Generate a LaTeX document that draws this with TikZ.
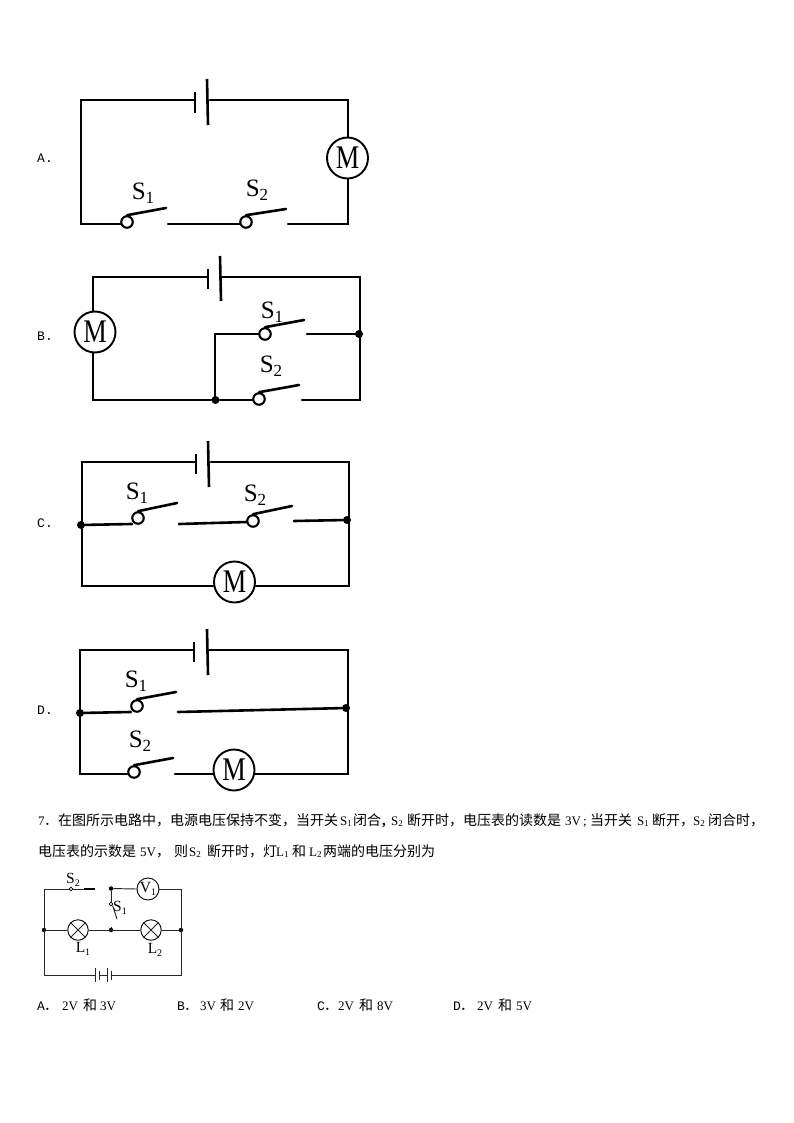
\documentclass[tikz,border=0pt]{standalone}
\usepackage{fontspec}
\usepackage{graphicx}
\setmainfont{Liberation Serif}
\newfontfamily\cjk{Noto Sans CJK SC}
\newfontfamily\monof{Liberation Mono}
\newcommand{\swlabel}[1]{\fontsize{25}{25}\selectfont S\raisebox{-4.5pt}{\fontsize{17}{17}\selectfont #1}}
\newcommand{\smlabel}[2]{\fontsize{15.5}{15.5}\selectfont #1\raisebox{-2.5pt}{\fontsize{10}{10}\selectfont #2}}
\newcommand{\txsub}[2]{#1\raisebox{-1.5pt}{\fontsize{9}{9}\selectfont #2}}
\tikzset{
  wire/.style={line width=2.6pt,line cap=round,line join=miter},
  plate/.style={line width=2.6pt},
  thin wire/.style={line width=0.95pt,black!85},
  motor/.style={circle,draw,line width=1.9pt,minimum size=41pt,inner sep=0pt,fill=white,font=\fontsize{33}{33}\selectfont},
  contact/.style={circle,draw,line width=2.1pt,minimum size=11.5pt,inner sep=0pt,fill=white},
  jdot/.style={circle,fill=black,minimum size=8pt,inner sep=0pt},
  sdot/.style={circle,fill=black,minimum size=4.5pt,inner sep=0pt},
  lamp/.style={circle,draw,line width=0.9pt,minimum size=20.5pt,inner sep=0pt,fill=white},
  volt/.style={circle,draw,line width=0.9pt,minimum size=22pt,inner sep=0pt,fill=white},
  tinycontact/.style={circle,draw,line width=0.7pt,minimum size=3.6pt,inner sep=0pt,fill=white},
  tx/.style={anchor=base west,inner sep=0pt,font=\fontsize{14}{14}\selectfont},
  cn/.style={tx,font=\fontsize{14}{14}\selectfont\cjk},
  lat/.style={tx,font=\fontsize{13}{13}\selectfont},
  opt/.style={anchor=base west,inner sep=0pt,font=\fontsize{13}{13}\selectfont\monof},
  swl/.style={inner sep=0pt}
}
\newcommand{\Mtxt}{\scalebox{.8}[1]{M}}
\begin{document}
\begin{tikzpicture}[x=1pt,y=-1pt]
\useasboundingbox (0,0) rectangle (794,1123);
\fill[white] (0,0) rectangle (794,1123);

% ---------- A ----------
\node[opt] (labA) at (37,163) {A.};
\coordinate (aTL) at (81,100); \coordinate (aTR) at (348,100);
\coordinate (aBL) at (81,224); \coordinate (aBR) at (348,224);
\coordinate (aP1) at (195,100); \coordinate (aP2) at (210,100);
\node[motor] (aM) at (347.5,158) {\Mtxt};
\node[contact] (aS1) at (127,222) {};
\node[contact] (aS2) at (246,222) {};
\coordinate (aS1e) at (166,208); \coordinate (aS2e) at (286,209);
\coordinate (aW1) at (168,224); \coordinate (aW2) at (288,224);
\draw[wire] (aP1) -- (aTL) -- (aBL) -- (aS1.west |- aBL);
\draw[wire] (aP2) -- (aTR) -- (aM.north -| aTR);
\draw[wire] (aM.south -| aBR) -- (aBR) -- (aW2);
\draw[wire] (aW1) -- (aS2.west |- aW1);
\draw[wire] (aS1.north) -- (aS1e);
\draw[wire] (aS2.north) -- (aS2e);
\draw[plate] (195,92) -- (195,113);
\draw[plate] (207,79) -- (208,125);
\node[swl] (aL1) at (143,193) {\swlabel{1}};
\node[swl] (aL2) at (257,190) {\swlabel{2}};

% ---------- B ----------
\node[opt] (labB) at (37,340) {B.};
\coordinate (bTL) at (93,277); \coordinate (bTR) at (360,277);
\coordinate (bBL) at (93,400); \coordinate (bBR) at (360,400);
\node[motor] (bM) at (95,332) {\Mtxt};
\node[contact] (bS1) at (265,334) {};
\node[contact] (bS2) at (259,399) {};
\node[jdot] (bJ1) at (359,334) {};
\node[jdot] (bJ2) at (215.5,400) {};
\coordinate (bS1e) at (304,320); \coordinate (bS2e) at (299,385);
\coordinate (bW1) at (307,334); \coordinate (bW2) at (302,400);
\coordinate (bIn) at (215,334);
\draw[wire] (208,277) -- (bTL) -- (bM.north -| bTL);
\draw[wire] (222,277) -- (bTR) -- (bBR) -- (bW2);
\draw[wire] (bM.south -| bBL) -- (bBL) -- (bJ2) -- (bS2.west |- bJ2);
\draw[wire] (bIn |- bJ2) -- (bIn) -- (bS1.west);
\draw[wire] (bW1) -- (bJ1);
\draw[wire] (bS1.north) -- (bS1e);
\draw[wire] (bS2.north) -- (bS2e);
\draw[plate] (208,269) -- (208,289);
\draw[plate] (220,256) -- (221,301);
\node[swl] (bL1) at (272,312) {\swlabel{1}};
\node[swl] (bL2) at (271,366) {\swlabel{2}};

% ---------- C ----------
\node[opt] (labC) at (37,527) {C.};
\coordinate (cTL) at (82,462); \coordinate (cTR) at (349,462);
\coordinate (cBL) at (82,586); \coordinate (cBR) at (349,586);
\node[motor] (cM) at (234.5,582) {\Mtxt};
\node[contact] (cS1) at (138,518) {};
\node[contact] (cS2) at (253,521) {};
\node[jdot] (cJ1) at (81,525) {};
\node[jdot] (cJ2) at (347,520) {};
\coordinate (cS1e) at (177,503); \coordinate (cS2e) at (292,506);
\coordinate (cS1w) at (132,524); \coordinate (cW1) at (179,524);
\coordinate (cS2w) at (247,522); \coordinate (cW2) at (294,521);
\draw[wire] (196,462) -- (cTL) -- (cBL) -- (cM.west |- cBL);
\draw[wire] (211,462) -- (cTR) -- (cBR) -- (cM.east |- cBR);
\draw[wire] (cJ1) -- (cS1w);
\draw[wire] (cW1) -- (cS2w);
\draw[wire] (cW2) -- (cJ2);
\draw[wire] (cS1.north) -- (cS1e);
\draw[wire] (cS2.north) -- (cS2e);
\draw[plate] (196,454) -- (196,474);
\draw[plate] (208,441) -- (209,487);
\node[swl] (cL1) at (137,493) {\swlabel{1}};
\node[swl] (cL2) at (255,495) {\swlabel{2}};

% ---------- D ----------
\node[opt] (labD) at (37,714) {D.};
\coordinate (dTL) at (80,650); \coordinate (dTR) at (348,650);
\coordinate (dBL) at (80,774); \coordinate (dBR) at (348,774);
\node[motor] (dM) at (234,770) {\Mtxt};
\node[contact] (dS1) at (137,706) {};
\node[contact] (dS2) at (134,772) {};
\node[jdot] (dJ1) at (80,713) {};
\node[jdot] (dJ2) at (346,708) {};
\coordinate (dS1e) at (176,692); \coordinate (dS2e) at (173,758);
\coordinate (dS1w) at (131,712); \coordinate (dW1) at (178,712);
\coordinate (dW2) at (175,774);
\draw[wire] (194,650) -- (dTL) -- (dBL) -- (dS2.west |- dBL);
\draw[wire] (209,650) -- (dTR) -- (dBR) -- (dM.east |- dBR);
\draw[wire] (dW2) -- (dM.west |- dW2);
\draw[wire] (dJ1) -- (dS1w);
\draw[wire] (dW1) -- (dJ2);
\draw[wire] (dS1.north) -- (dS1e);
\draw[wire] (dS2.north) -- (dS2e);
\draw[plate] (194,642) -- (194,662);
\draw[plate] (207,629) -- (208,675);
\node[swl] (dL1) at (136,681) {\swlabel{1}};
\node[swl] (dL2) at (140,741) {\swlabel{2}};

% ---------- Question text ----------
\node[lat] (q0) at (38,825) {7};
\node[cn] (q0b) at (44,825) {．};
\node[cn] (q1) at (58,825) {在图所示电路中，电源电压保持不变，当开关};
\node[lat] (q2) at (340,825) {\txsub{S}{1}};
\node[cn] (q3) at (353,825) {闭合};
\node[lat,font=\fontsize{15}{15}\selectfont\bfseries] (q3b) at (382,825) {,};
\node[lat] (q4) at (391,825) {\txsub{S}{2}};
\node[cn] (q5) at (407,825) {断开时，电压表的读数是};
\node[lat] (q6) at (565,825) {3V};
\node[lat] (q6b) at (583,825) {;};
\node[cn] (q7) at (590,825) {当开关};
\node[lat] (q8) at (637,825) {\txsub{S}{1}};
\node[cn] (q9) at (652,825) {断开，};
\node[lat] (q10) at (693,825) {\txsub{S}{2}};
\node[cn] (q11) at (708,825) {闭合时，};

\node[cn] (r1) at (38,856) {电压表的示数是};
\node[lat] (r2) at (140,856) {5V};
\node[cn] (r3) at (156,856) {，};
\node[cn] (r4) at (174,856) {则};
\node[lat] (r5) at (189,856) {\txsub{S}{2}};
\node[cn] (r6) at (207,856) {断开时，灯};
\node[lat] (r7) at (276,856) {\txsub{L}{1}};
\node[cn] (r8) at (292,856) {和};
\node[lat] (r9) at (309,856) {\txsub{L}{2}};
\node[cn] (r10) at (323,856) {两端的电压分别为};

% ---------- Small circuit ----------
\coordinate (sTL) at (44,889); \coordinate (sTR) at (181,889);
\coordinate (sBL) at (44,975); \coordinate (sBR) at (181,975);
\node[sdot] (sJL) at (44,930) {};
\node[sdot] (sJR) at (181,930) {};
\node[sdot] (sJT) at (111,888.5) {};
\node[sdot] (sJM) at (111,930) {};
\node[lamp] (sL1) at (78,930) {};
\node[lamp] (sL2) at (151,930) {};
\node[volt] (sV) at (148,889) {};
\node[tinycontact] (sS2) at (71,889) {};
\node[tinycontact] (sS1) at (111,904) {};
\coordinate (sS2e) at (95,889); \coordinate (sS1e) at (117,919);
\coordinate (sS1j) at (111,927);
\draw[thin wire] (sS2.west) -- (sTL) -- (sBL) -- (95,975);
\draw[thin wire] (111,975) -- (sBR) -- (sTR) -- (sV.east);
\draw[thin wire] (sJT) -- (sV.west);
\draw[thin wire] (sS2.east) -- (84,889);
\draw[line width=1.3pt] (84,889) -- (sS2e);
\draw[thin wire] (sJT) -- (sS1.north);
\draw[thin wire] (sS1.south east) -- (sS1e);
\draw[thin wire] (sS1j) -- (sJM);
\draw[thin wire] (sJL) -- (sL1.west);
\draw[thin wire] (sL1.east) -- (sL2.west);
\draw[thin wire] (sL2.east) -- (sJR);
\draw[thin wire] (sL1.north west) -- (sL1.south east);
\draw[thin wire] (sL1.north east) -- (sL1.south west);
\draw[thin wire] (sL2.north west) -- (sL2.south east);
\draw[thin wire] (sL2.north east) -- (sL2.south west);
\draw[thin wire] (95,968) -- (95,982);
\draw[thin wire] (99,971) -- (99,980);
\draw[thin wire] (99,975) -- (107,975);
\draw[thin wire] (107,968) -- (107,982);
\draw[thin wire] (111,971) -- (111,980);
\node[swl] (sLs2) at (73,880) {\smlabel{S}{2}};
\node[swl] (sLs1) at (120,908) {\smlabel{S}{1}};
\node[swl] (sLv) at (148,889) {\smlabel{V}{1}};
\node[swl] (sLl1) at (83,949) {\smlabel{L}{1}};
\node[swl] (sLl2) at (155,950) {\smlabel{L}{2}};

% ---------- Answer options ----------
\node[opt] (oA) at (37,1010) {A};
\node[cn] (oAd) at (44,1010) {．};
\node[lat] (oA1) at (62,1010) {2V};
\node[cn] (oA2) at (83,1010) {和};
\node[lat] (oA3) at (100,1010) {3V};
\node[opt] (oB) at (177,1010) {B};
\node[cn] (oBd) at (184,1010) {．};
\node[lat] (oB1) at (200,1010) {3V};
\node[cn] (oB2) at (220,1010) {和};
\node[lat] (oB3) at (238,1010) {2V};
\node[opt] (oC) at (317,1010) {C};
\node[cn] (oCd) at (324,1010) {．};
\node[lat] (oC1) at (338,1010) {2V};
\node[cn] (oC2) at (359,1010) {和};
\node[lat] (oC3) at (377,1010) {8V};
\node[opt] (oD) at (453,1010) {D};
\node[cn] (oDd) at (460,1010) {．};
\node[lat] (oD1) at (477,1010) {2V};
\node[cn] (oD2) at (498,1010) {和};
\node[lat] (oD3) at (516,1010) {5V};
\end{tikzpicture}
\end{document}
